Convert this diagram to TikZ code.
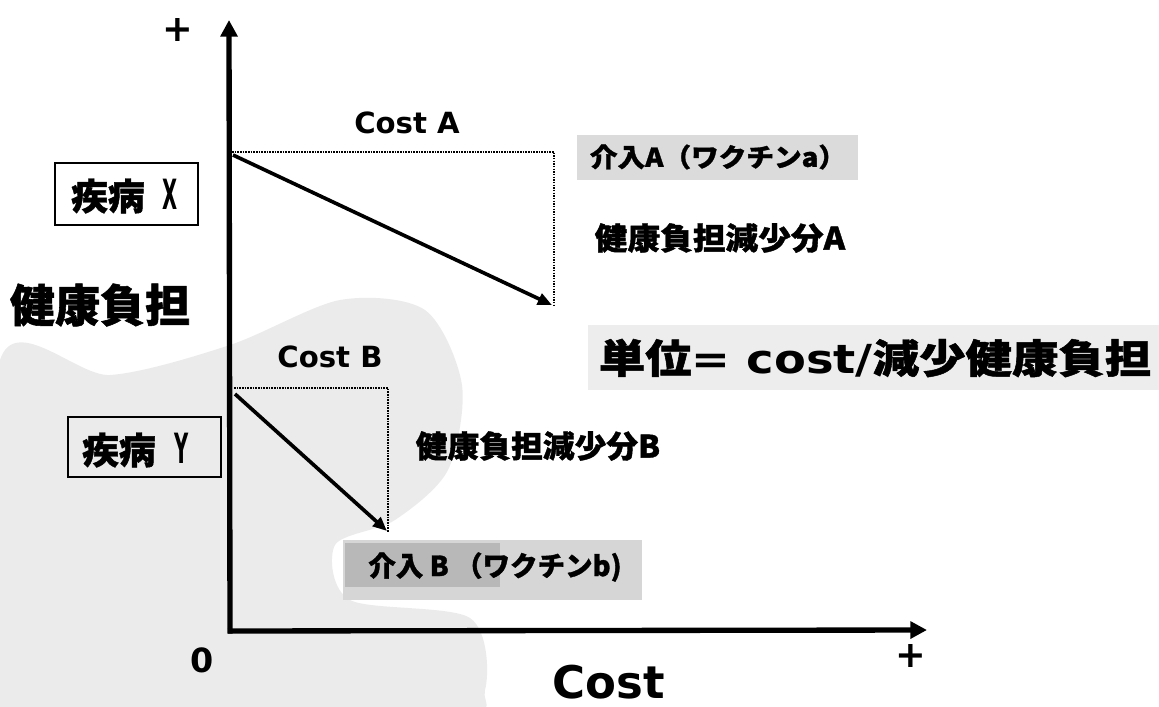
\documentclass[tikz,border=0pt]{standalone}
\usepackage{fontspec}
\usepackage{graphicx}
\setmainfont{DejaVu Sans}
\newfontfamily\cjkjp{Noto Sans CJK JP}[BoldFeatures={FakeBold=1.2}]
\newcommand\jpb{\cjkjp\bfseries}
\usetikzlibrary{arrows.meta}
\tikzset{
  axisline/.style={line width=3.2pt, -{Triangle[length=10pt,width=10pt]}},
  diagline/.style={line width=2.2pt, -{Triangle[length=8.5pt,width=7pt]}},
  dotline/.style={line width=1.1pt, dash pattern=on 0.9pt off 0.7pt},
  lbl/.style={inner sep=0pt, anchor=center, font=\bfseries},
  diseasebox/.style={draw, line width=1.3pt, inner sep=0pt},
  stipple/.style={fill=black!8, draw=none},
}
\begin{document}
\begin{tikzpicture}[x=0.6pt,y=-0.6pt]
\useasboundingbox (0,0) rectangle (1159,707);
\begin{scope}
\clip (0,0) rectangle (1159,707);
% halftone background region
\fill[stipple] plot[smooth cycle] coordinates {(0,360) (110,375) (230,345) (340,300) (425,310) (462,385) (448,470) (395,520) (335,545) (350,600) (470,618) (485,690) (440,720) (0,720)};
\end{scope}
% label backgrounds
\fill[black!14] (577,135) rectangle (858,180);
\fill[black!7] (588,325) rectangle (1159,390);
\fill[black!16] (343,540) rectangle (642,600);
\fill[black!28] (345,543) rectangle (500,587);

% axes
\coordinate (O) at (230,631);
\coordinate (Ytop) at (229,20);
\coordinate (Xend) at (927,630);
\coordinate (Ybot) at (230,633.5);
\coordinate (Xbeg) at (228,631);
\draw[axisline] (Ybot) -- (Ytop);
\draw[axisline] (Xbeg) -- (Xend);

% intervention A
\coordinate (A0) at (232,152);
\coordinate (A1) at (554,152);
\coordinate (A2) at (554,306);
\coordinate (As) at (233,155);
\coordinate (Ae) at (552,305);
\draw[dotline] (A0) -- (A1) -- (A2);
\draw[diagline] (As) -- (Ae);

% intervention B
\coordinate (B0) at (234,388);
\coordinate (B1) at (388,388);
\coordinate (B2) at (388,532);
\coordinate (Bs) at (235,394);
\coordinate (Be) at (387,531);
\draw[dotline] (B0) -- (B1) -- (B2);
\draw[diagline] (Bs) -- (Be);

% axis labels
\node[lbl, font=\bfseries\fontsize{22}{22}\selectfont] (plusY) at (178,30) {+};
\node[lbl, font=\bfseries\fontsize{22}{22}\selectfont] (plusX) at (911,656) {+};
\node[lbl, font=\bfseries\fontsize{20}{20}\selectfont] (zero) at (202,660) {0};
\node[lbl, font=\bfseries\fontsize{27}{27}\selectfont] (costax) at (609,682) {Cost};
\node[lbl, font=\jpb\fontsize{27}{27}\selectfont] (burden) at (100,305) {健康負担};

% disease boxes
\node[diseasebox, minimum width=85.8pt, minimum height=37.2pt] (dX) at (126.5,194) {};
\node[lbl, font=\jpb\fontsize{22}{22}\selectfont, anchor=west] (dXt) at (71,196) {疾病\hspace{0.5em}{\fontsize{25}{25}\selectfont\normalfont\bfseries\scalebox{0.47}[1]{X}}};
\node[diseasebox, minimum width=91.8pt, minimum height=36pt] (dY) at (144.5,447) {};
\node[lbl, font=\jpb\fontsize{22}{22}\selectfont, anchor=west] (dYt) at (82,450) {疾病\hspace{0.5em}{\fontsize{25}{25}\selectfont\normalfont\bfseries\scalebox{0.47}[1]{Y}}};

% cost labels
\node[lbl, font=\bfseries\fontsize{17.5}{17.5}\selectfont] (costA) at (407,123) {Cost A};
\node[lbl, font=\bfseries\fontsize{17.5}{17.5}\selectfont] (costB) at (330,357) {Cost B};

% intervention labels
\node[lbl, font=\jpb\fontsize{15.5}{15.5}\selectfont] (intA) at (718,157) {\scalebox{1.07}[1]{介入A（ワクチンa）}};
\node[lbl, font=\jpb\fontsize{18.5}{18.5}\selectfont] (redA) at (720,238) {\scalebox{1.06}[1]{健康負担減少分A}};
\node[lbl, font=\jpb\fontsize{18.5}{18.5}\selectfont] (redB) at (538,446) {\scalebox{1.03}[1]{健康負担減少分B}};
\node[lbl, font=\jpb\fontsize{16.5}{16.5}\selectfont] (intB) at (495,567) {介入 B （ワクチンb)};

% unit
\node[lbl, font=\jpb\fontsize{24}{24}\selectfont] (unit) at (875,358) {\scalebox{1.16}[1]{単位{\normalfont\bfseries= cost/}減少健康負担}};
\end{tikzpicture}
\end{document}
